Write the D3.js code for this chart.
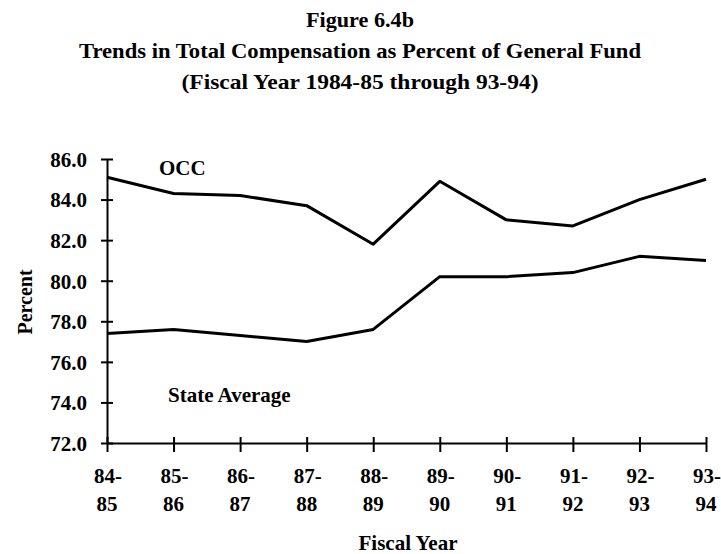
<!DOCTYPE html>
<html>
<head>
<meta charset="utf-8">
<script src="https://cdn.jsdelivr.net/npm/d3@7"></script>
<style>
  html, body { margin: 0; padding: 0; background: #fff; }
  svg { display: block; }
  text { font-family: "Liberation Serif", "DejaVu Serif", serif; font-weight: bold; fill: #000; }
</style>
</head>
<body>
<svg id="chart" width="721" height="554"></svg>
<script>
// Fiscal years on the x axis (two-line labels)
const years = ["84-85", "85-86", "86-87", "87-88", "88-89", "89-90", "90-91", "91-92", "92-93", "93-94"];
// Total compensation as percent of general fund
const occ = [85.1, 84.3, 84.2, 83.7, 81.8, 84.9, 83.0, 82.7, 84.0, 85.0];
const stateAverage = [77.4, 77.6, 77.3, 77.0, 77.6, 80.2, 80.2, 80.4, 81.2, 81.0];
// Y axis ticks
const yTicks = [72, 74, 76, 78, 80, 82, 84, 86];

const svg = d3.select("#chart");

const x = d3.scalePoint().domain(years).range([107, 706]).padding(0);
const y = d3.scaleLinear().domain([72, 86]).range([443, 159]);

// Titles
const titles = [
  { t: "Figure 6.4b", y: 27, w: 108 },
  { t: "Trends in Total Compensation as Percent of General Fund", y: 58, w: 562 },
  { t: "(Fiscal Year 1984-85 through 93-94)", y: 89, w: 357 }
];
svg.selectAll("text.title").data(titles).join("text")
  .attr("class", "title")
  .attr("x", 360).attr("y", d => d.y)
  .attr("text-anchor", "middle")
  .attr("textLength", d => d.w)
  .attr("lengthAdjust", "spacingAndGlyphs")
  .style("font-size", "21px")
  .text(d => d.t);

// Y axis
const yAxis = d3.axisLeft(y).tickValues(yTicks).tickFormat(d3.format(".1f")).tickSizeInner(6).tickSizeOuter(0).tickPadding(14);
const gy = svg.append("g").attr("transform", "translate(107,0)").call(yAxis);
gy.select(".domain").attr("stroke", "#000").attr("stroke-width", 2);
gy.selectAll(".tick line").attr("x2", 6).attr("x1", -6).attr("stroke", "#000").attr("stroke-width", 2);
gy.selectAll(".tick text").style("font-size", "21px").attr("dy", "0.35em");

// X axis
const xAxis = d3.axisBottom(x).tickSize(0).tickFormat("");
const gx = svg.append("g").attr("transform", "translate(0,443)").call(xAxis);
gx.select(".domain").attr("stroke", "#000").attr("stroke-width", 2);
gx.selectAll(".tick line").attr("y1", -6).attr("y2", 9).attr("stroke", "#000").attr("stroke-width", 2);

// Two-line x labels
const xl = svg.append("g").selectAll("text").data(years).join("text")
  .attr("x", d => x(d))
  .attr("text-anchor", "middle")
  .style("font-size", "21px");
xl.append("tspan").attr("x", d => x(d) + 1).attr("y", 483).text(d => d.split("-")[0] + "-");
xl.append("tspan").attr("x", d => x(d)).attr("y", 511).text(d => d.split("-")[1]);

// Axis titles
svg.append("text")
  .attr("transform", "translate(32,302) rotate(-90)")
  .attr("text-anchor", "middle")
  .style("font-size", "20px")
  .text("Percent");
svg.append("text")
  .attr("x", 408).attr("y", 550)
  .attr("text-anchor", "middle")
  .style("font-size", "21px")
  .text("Fiscal Year");

// Lines
const line = d3.line().x((d, i) => x(years[i])).y(d => y(d));
[occ, stateAverage].forEach(s => {
  svg.append("path").datum(s)
    .attr("d", line)
    .attr("fill", "none")
    .attr("stroke", "#000")
    .attr("stroke-width", 3)
    .attr("stroke-linejoin", "round");
});

// Series labels
svg.append("text").attr("x", 159).attr("y", 175).style("font-size", "21px").text("OCC");
svg.append("text").attr("x", 168).attr("y", 402).style("font-size", "21px").text("State Average");
</script>
</body>
</html>
